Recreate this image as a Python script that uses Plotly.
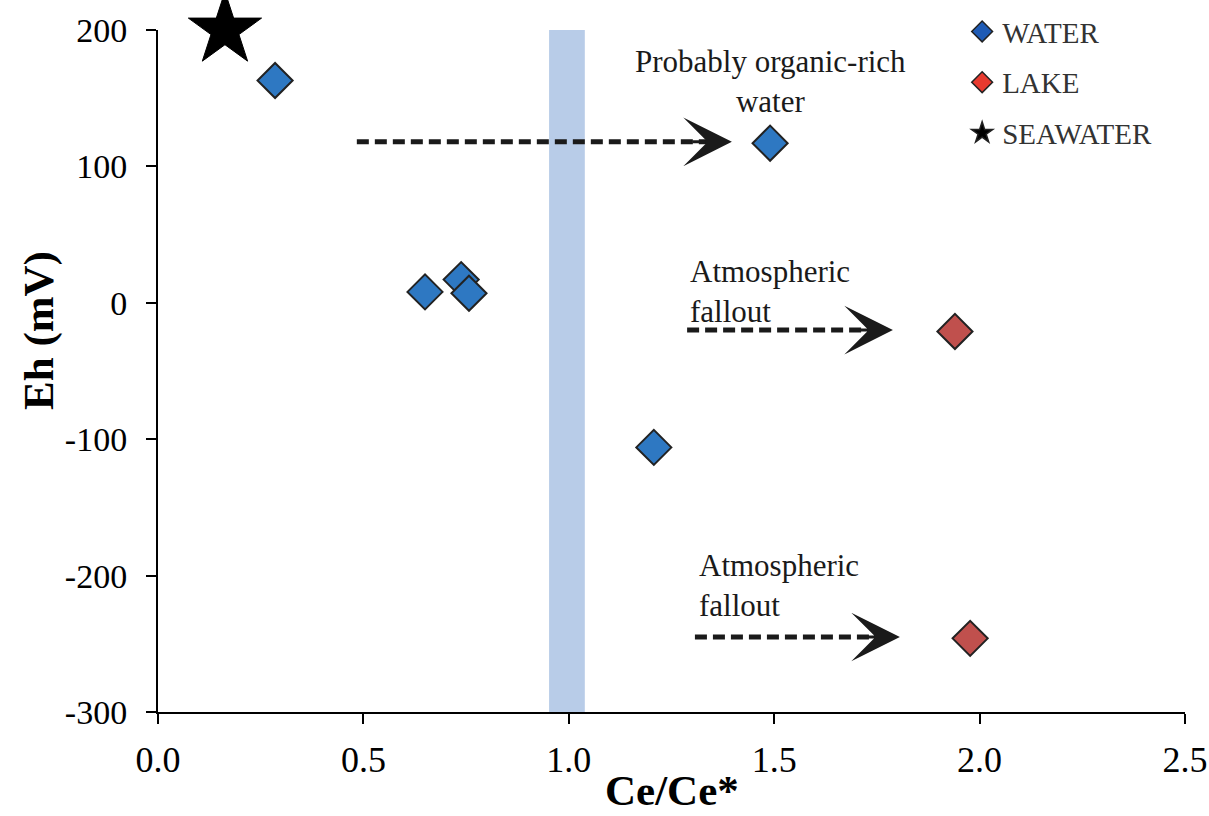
import plotly.graph_objects as go

# Sample measurements
water_ce = [0.285, 1.49, 0.65, 0.738, 0.757, 1.207]
water_eh = [163, 117, 8, 17, 7, -106]
lake_ce = [1.94, 1.977]
lake_eh = [-21, -246]
sea_ce = [0.163]
sea_eh = [200]

# Ce/Ce* = 1 reference band
band_lo, band_hi = 0.952, 1.039

# Dashed arrows: (start x, end x, y)
arrows = [(0.484, 1.397, 118), (1.288, 1.789, -20), (1.307, 1.806, -245)]

x_ticks = [0, 0.5, 1.0, 1.5, 2.0, 2.5]
x_tick_text = ["0.0", "0.5", "1.0", "1.5", "2.0", "2.5"]
y_ticks = [-300, -200, -100, 0, 100, 200]
y_tick_text = ["-300", "-200", "-100", "0", "100", "200"]

serif = "Liberation Serif, Times New Roman, serif"
ink = "#1a1a1a"
fig = go.Figure()

fig.add_shape(type="rect", xref="x", yref="y", x0=band_lo, x1=band_hi, y0=-300, y1=200,
              fillcolor="#B8CCE8", line_width=0, layer="below")

for x0, x1, y in arrows:
    fig.add_shape(type="line", xref="x", yref="y", x0=x0, x1=x1 - 0.06, y0=y, y1=y,
                  line=dict(color=ink, width=5, dash="12px,6px"))
    fig.add_annotation(x=x1, y=y, ax=x1 - 0.1, ay=y, axref="x", ayref="y", xref="x", yref="y",
                       text="", showarrow=True, arrowhead=3, arrowsize=2.7, arrowwidth=3,
                       arrowcolor=ink)

fig.add_trace(go.Scatter(x=water_ce, y=water_eh, mode="markers", showlegend=False,
                         marker=dict(symbol="diamond", size=27, color="#2E78C2",
                                     line=dict(color="#222", width=2)), cliponaxis=False))
fig.add_trace(go.Scatter(x=lake_ce, y=lake_eh, mode="markers", showlegend=False,
                         marker=dict(symbol="diamond", size=27, color="#C0504D",
                                     line=dict(color="#222", width=2)), cliponaxis=False))
fig.add_trace(go.Scatter(x=sea_ce, y=sea_eh, mode="markers", showlegend=False,
                         marker=dict(symbol="star", size=55, color="black",
                                     line=dict(color="black", width=1)), cliponaxis=False))

# Legend entries
legend_items = [("WATER", "diamond", "#1F5BB5", 22), ("LAKE", "diamond", "#E83A2F", 22),
                ("SEAWATER", "star", "black", 34)]
for name, sym, col, sz in legend_items:
    fig.add_trace(go.Scatter(x=[None], y=[None], mode="markers", name=name, legendgroup=name,
                             marker=dict(symbol=sym, size=sz, color=col,
                                         line=dict(color="#222", width=1.5))))

note_font = dict(family=serif, size=31, color=ink)
fig.add_annotation(x=1.49, y=162, xref="x", yref="y", text="Probably organic-rich<br>water",
                   showarrow=False, font=note_font, align="center", yanchor="middle")
fig.add_annotation(x=1.29, y=8, xref="x", yref="y", text="Atmospheric<br>fallout",
                   showarrow=False, font=note_font, align="left", xanchor="left",
                   yanchor="middle")
fig.add_annotation(x=1.312, y=-207, xref="x", yref="y", text="Atmospheric<br>fallout",
                   showarrow=False, font=note_font, align="left", xanchor="left",
                   yanchor="middle")

# Axis titles
title_font = dict(family=serif, size=43, color="black")
fig.add_annotation(x=-0.116, y=0.56, xref="paper", yref="paper", text="<b>Eh (mV)</b>",
                   textangle=-90, showarrow=False, xanchor="center", yanchor="middle",
                   font=title_font)
fig.add_annotation(x=0.5, y=-0.151, xref="paper", yref="paper", text="<b>Ce/Ce*</b>",
                   showarrow=False, xanchor="center", yanchor="bottom", borderpad=0,
                   font=title_font)

fig.update_layout(
    width=1209, height=816, margin=dict(l=158, r=24, t=30, b=104, autoexpand=False),
    plot_bgcolor="white", paper_bgcolor="white",
    font=dict(family=serif, color="black"),
    legend=dict(x=0.783, y=1.035, xanchor="left", yanchor="top", tracegroupgap=10,
                font=dict(family=serif, size=29, color="#333"), itemsizing="trace",
                bgcolor="rgba(0,0,0,0)"),
    xaxis=dict(range=[0, 2.5], tickvals=x_ticks, ticktext=x_tick_text,
               showgrid=False, zeroline=False, showline=True, linecolor="black", linewidth=2,
               ticks="outside", ticklen=10, tickwidth=2, tickcolor="black",
               ticklabelstandoff=5, automargin=False,
               tickfont=dict(family=serif, size=36, color="black")),
    yaxis=dict(range=[-300, 200], tickvals=y_ticks, ticktext=y_tick_text,
               showgrid=False, zeroline=False, showline=True, linecolor="black", linewidth=2,
               ticks="outside", ticklen=10, tickwidth=2, tickcolor="black",
               ticklabelstandoff=12, automargin=False,
               tickfont=dict(family=serif, size=34, color="black")),
)

fig.write_html("out.html")
